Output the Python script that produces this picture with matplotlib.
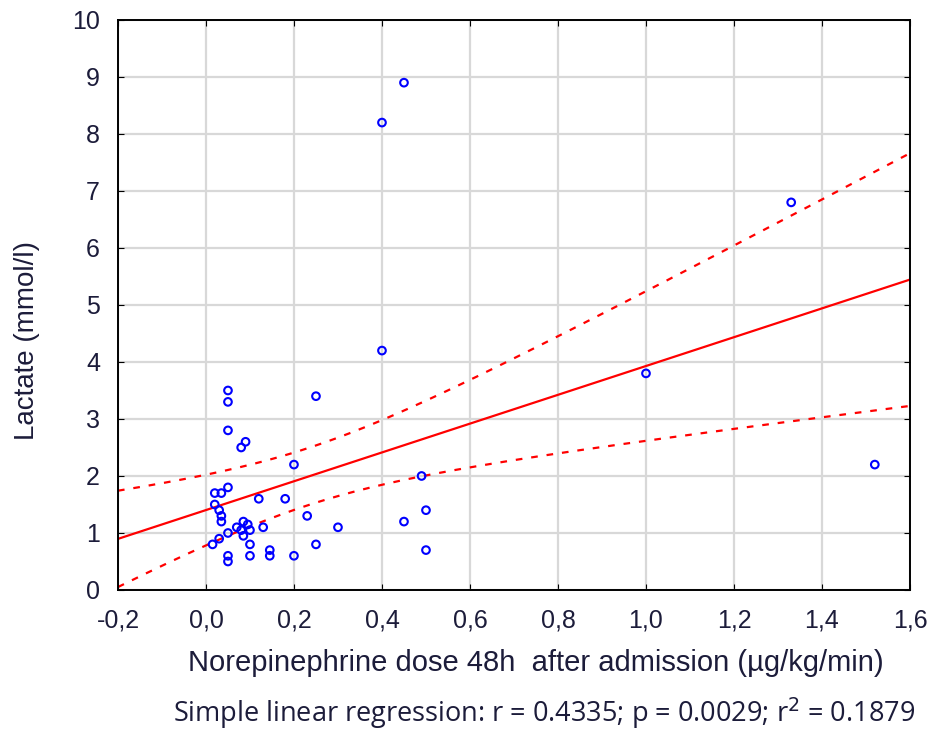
import numpy as np
import matplotlib.pyplot as plt

# norepinephrine dose (ug/kg/min) and lactate (mmol/l)
dose = [0.45, 0.40, 1.33, 0.40, 1.00, 0.25, 0.05, 0.05, 0.05, 0.08,
        0.09, 1.52, 0.20, 0.49, 0.05, 0.02, 0.035, 0.12, 0.18, 0.02,
        0.03, 0.035, 0.035, 0.23, 0.50, 0.45, 0.30, 0.13, 0.085, 0.095,
        0.08, 0.10, 0.085, 0.07, 0.05, 0.03, 0.015, 0.10, 0.145, 0.145,
        0.05, 0.05, 0.10, 0.20, 0.25, 0.50]
lactate = [8.9, 8.2, 6.8, 4.2, 3.8, 3.4, 3.5, 3.3, 2.8, 2.5,
           2.6, 2.2, 2.2, 2.0, 1.8, 1.7, 1.7, 1.6, 1.6, 1.5,
           1.4, 1.3, 1.2, 1.3, 1.4, 1.2, 1.1, 1.1, 1.2, 1.15,
           1.05, 1.05, 0.95, 1.1, 1.0, 0.9, 0.8, 0.8, 0.7, 0.6,
           0.6, 0.5, 0.6, 0.6, 0.8, 0.7]

xticks = [-0.2, 0.0, 0.2, 0.4, 0.6, 0.8, 1.0, 1.2, 1.4, 1.6]
xticklabels = ['-0,2', '0,0', '0,2', '0,4', '0,6', '0,8', '1,0', '1,2', '1,4', '1,6']
yticks = list(range(0, 11))

# regression line with 95% confidence band
x = np.array(dose)
y = np.array(lactate)
n = len(x)
slope, icpt = np.polyfit(x, y, 1)
resid = y - (icpt + slope * x)
s = np.sqrt(np.sum(resid ** 2) / (n - 2))
sxx = np.sum((x - x.mean()) ** 2)
xs = np.linspace(-0.2, 1.6, 200)
fit = icpt + slope * xs
half = 2.014 * s * np.sqrt(1 / n + (xs - x.mean()) ** 2 / sxx)

txt = '#1c1c3a'
plt.rcParams['font.family'] = ['Liberation Sans', 'DejaVu Sans']
fig = plt.figure(figsize=(9.34, 7.34), dpi=100)
ax = fig.add_axes([0.1263, 0.1962, 0.848, 0.7766])

ax.grid(True, color='#d8d8d8', lw=1.6, zorder=0)
ax.plot(xs, fit, color='red', lw=1.6, zorder=2)
ax.plot(xs, fit + half, color='red', lw=1.6, ls=(0, (3, 4)), zorder=2)
ax.plot(xs, fit - half, color='red', lw=1.6, ls=(0, (3, 4)), zorder=2)
ax.scatter(x, y, s=30, facecolors='none', edgecolors='#0000ff', linewidths=1.5, zorder=3)

ax.set_xlim(-0.2, 1.6)
ax.set_ylim(0, 10)
ax.set_xticks(xticks)
ax.set_xticklabels(xticklabels)
ax.set_yticks(yticks)
ax.tick_params(direction='in', length=4, labelsize=18, colors='black',
               labelcolor=txt, top=True, right=True)
ax.tick_params(axis='x', pad=13)
ax.tick_params(axis='y', pad=13)
for sp in ax.spines.values():
    sp.set_linewidth(1.4)

ax.set_xlabel('Norepinephrine dose 48h  after admission (\u00b5g/kg/min)',
              fontsize=21, color=txt)
ax.xaxis.set_label_coords(0.527, -0.103)
ax.set_ylabel('Lactate (mmol/l)', fontsize=20, color=txt)
ax.yaxis.set_label_coords(-0.098, 0.437)

fig.text(0.98, 0.028, 'Simple linear regression: r = 0.4335; p = 0.0029; r$^2$ = 0.1879',
         ha='right', va='center', fontsize=19.5, family='Open Sans', color=txt)

fig.savefig('out.png', dpi=100)
